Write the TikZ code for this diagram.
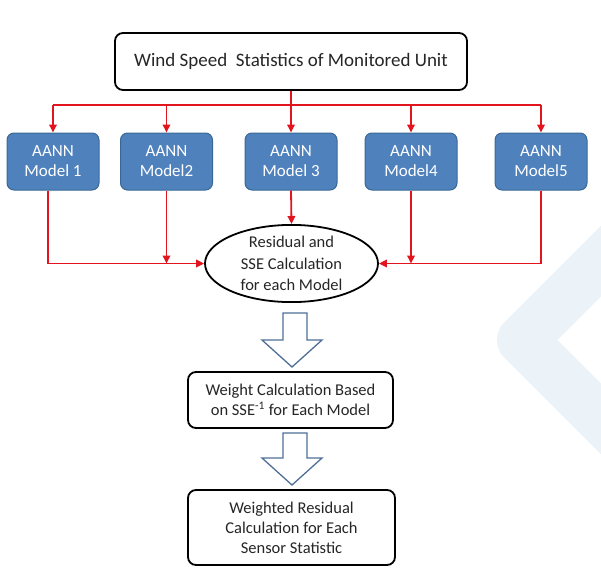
\documentclass[tikz,border=0pt]{standalone}
\usepackage{fontspec}
\setmainfont{Carlito}
\usetikzlibrary{arrows.meta,shapes.geometric}
\definecolor{redline}{HTML}{E2141E}
\definecolor{modelfill}{HTML}{4F81BD}
\definecolor{modeldraw}{HTML}{3A6894}
\definecolor{txt}{HTML}{262626}
\definecolor{wm}{HTML}{EBF2F8}
\definecolor{hollow}{HTML}{4F6F96}
\tikzset{
  whitebox/.style={draw=black, line width=1.8pt, rounded corners=8pt, fill=white, align=center, text=txt, font=\fontsize{16.5}{20}\selectfont},
  modelbox/.style={draw=modeldraw, line width=1pt, fill=modelfill, rounded corners=7pt, minimum width=92pt, minimum height=57pt, align=center, text=white, font=\fontsize{17}{20}\selectfont},
  conn/.style={draw=redline, line width=1.8pt, -{Triangle[length=8pt,width=7.5pt]}},
  plainconn/.style={draw=redline, line width=1.8pt},
  hollowarrow/.style={draw=hollow, line width=1.3pt, fill=white, line join=miter}
}
\begin{document}
\begin{tikzpicture}[x=1pt,y=-1pt]
\useasboundingbox (0,0) rectangle (601,581);
% watermark
\begin{scope}
\clip (0,0) rectangle (601,581);
\draw[wm, line width=50pt, line join=round] (655,207) -- (522,340) -- (655,473);
\end{scope}
% nodes
\node[whitebox, minimum width=352pt, minimum height=57pt, font=\fontsize{19}{22}\selectfont] (top) at (291,61.5) {Wind Speed\ \ Statistics of Monitored Unit};
\node[modelbox] (m1) at (53,161.5) {AANN\\Model 1};
\node[modelbox] (m2) at (166.5,161.5) {AANN\\Model2};
\node[modelbox] (m3) at (291,161.5) {AANN\\Model 3};
\node[modelbox] (m4) at (411,161.5) {AANN\\Model4};
\node[modelbox] (m5) at (541,161.5) {AANN\\Model5};
\node[ellipse, draw=black, line width=1.8pt, fill=white, minimum width=173pt, minimum height=77pt, inner sep=0pt, align=center, text=txt, font=\fontsize{16.5}{21.5}\selectfont] (ell) at (291.5,263.5) {Residual and\\SSE Calculation\\for each Model};
\node[whitebox, minimum width=205pt, minimum height=56pt] (w) at (290.5,400) {Weight Calculation Based\\on SSE\textsuperscript{-1} for Each Model};
\node[whitebox, minimum width=207pt, minimum height=75pt] (r) at (291.5,527.5) {Weighted Residual\\Calculation for Each\\Sensor Statistic};
% bus
\coordinate (bus) at (0,105);
\draw[plainconn] (m1.north |- bus) -- (m5.north |- bus);
\draw[plainconn] (top.south) -- (top.south |- bus);
\foreach \m in {m1,m2,m3,m4,m5} {
  \draw[conn] (\m.north |- bus) -- (\m.north);
}
% lower
\coordinate (m1out) at ([xshift=-5pt]m1.south);
\draw[conn] (m1out) |- (ell.west);
\draw[conn] (m2.south) -- (m2.south |- ell.west);
\draw[conn] (m3.south) -- (ell.north);
\draw[conn] (m4.south) -- (m4.south |- ell.east);
\draw[conn] (m5.south) |- (ell.east);
% hollow arrows
\draw[hollowarrow] (283,313) -- (307,313) -- (307,340) -- (322,340) -- (292,367) -- (262,340) -- (283,340) -- cycle;
\draw[hollowarrow] (283,433) -- (307,433) -- (307,458) -- (322,458) -- (292,485) -- (262,458) -- (283,458) -- cycle;
\end{tikzpicture}
\end{document}
